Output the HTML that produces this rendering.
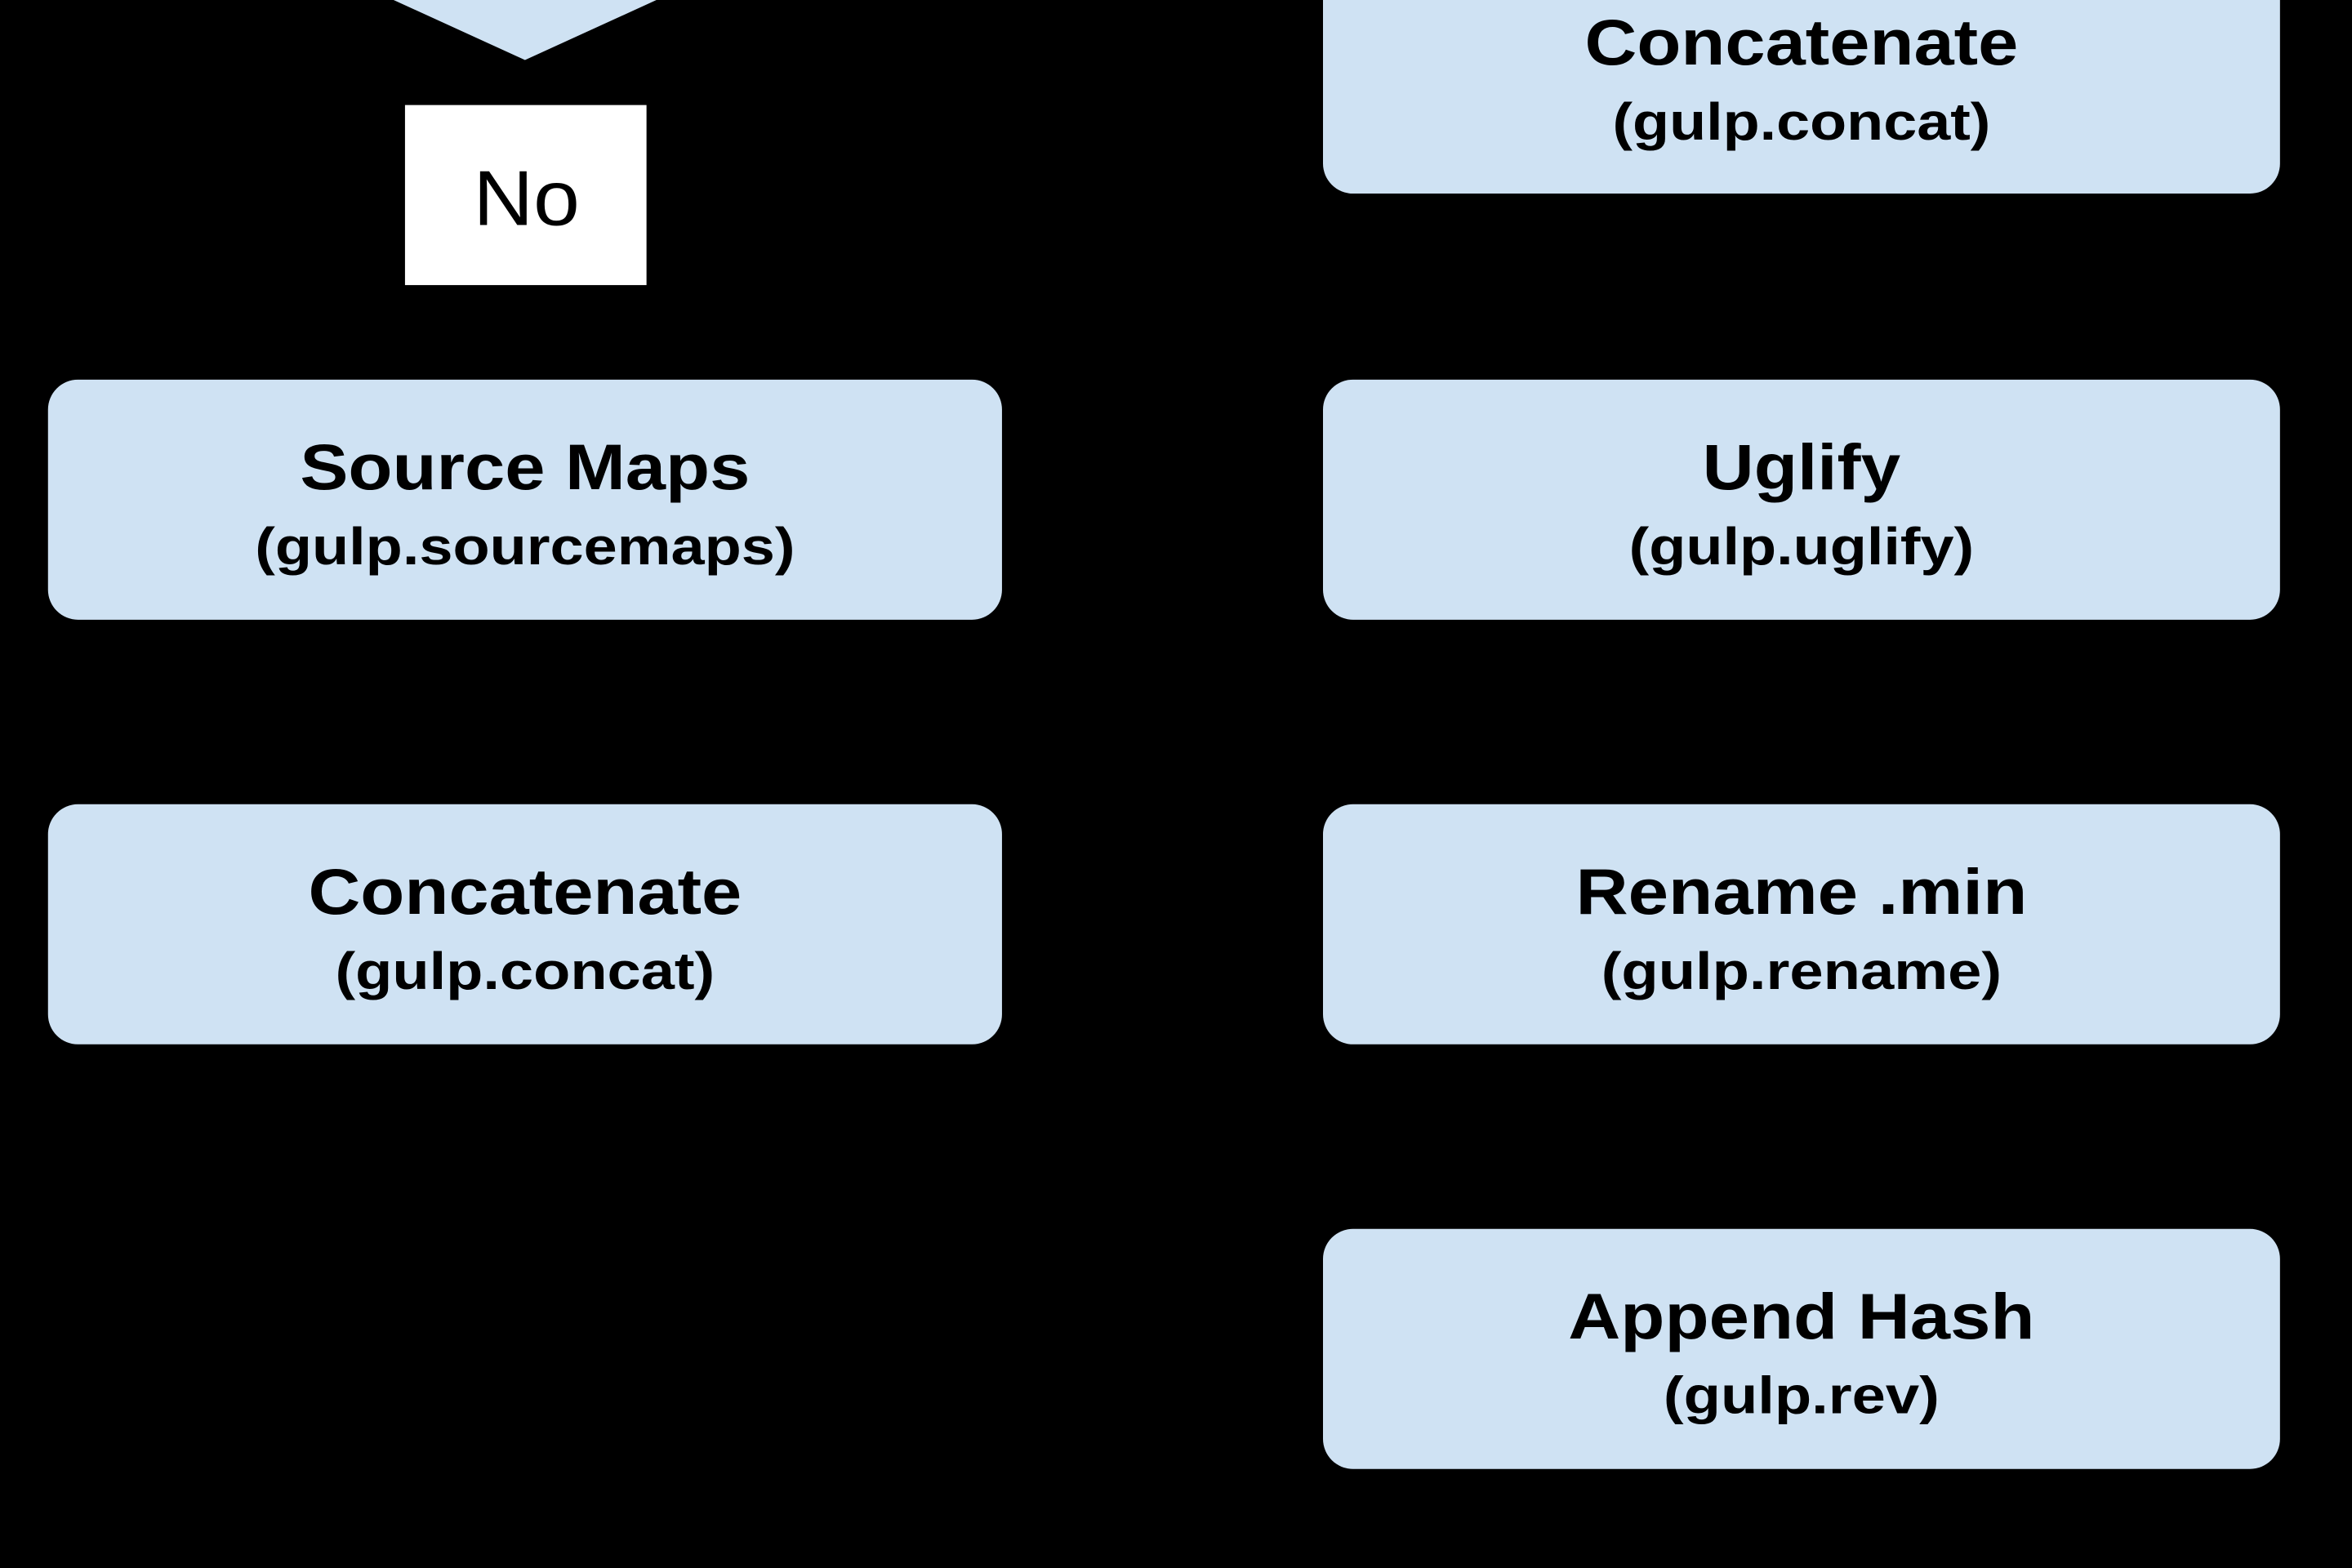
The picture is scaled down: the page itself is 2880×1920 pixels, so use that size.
<!DOCTYPE html>
<html><head><meta charset="utf-8"><style>
html,body{margin:0;padding:0;background:#000;width:2880px;height:1920px;overflow:hidden}
svg{display:block}
text{font-family:"Liberation Sans",Arial,sans-serif;fill:#000;text-anchor:middle}
.t{font-weight:bold;font-size:43px}
.s{font-weight:bold;font-size:35px}
</style></head><body>
<svg width="2880" height="1920" viewBox="0 0 1568 1045" preserveAspectRatio="none" xmlns="http://www.w3.org/2000/svg">
<rect x="0" y="0" width="1568" height="1045" fill="#000"/>
<polygon points="258,-2 442,-2 350,40" fill="#cfe2f3"/>
<rect x="270" y="70" width="161" height="120" fill="#fff"/>
<text x="351" y="150" style="font-size:52px" textLength="71" lengthAdjust="spacingAndGlyphs">No</text>

<rect x="32" y="253" width="636" height="160" rx="20" fill="#cfe2f3"/>
<text class="t" x="350" y="326" textLength="300" lengthAdjust="spacingAndGlyphs">Source Maps</text>
<text class="s" x="350" y="376" textLength="360" lengthAdjust="spacingAndGlyphs">(gulp.sourcemaps)</text>

<rect x="32" y="536" width="636" height="160" rx="20" fill="#cfe2f3"/>
<text class="t" x="350" y="609" textLength="289" lengthAdjust="spacingAndGlyphs">Concatenate</text>
<text class="s" x="350" y="659" textLength="253" lengthAdjust="spacingAndGlyphs">(gulp.concat)</text>

<rect x="882" y="-40" width="638" height="169" rx="20" fill="#cfe2f3"/>
<text class="t" x="1201" y="43" textLength="289" lengthAdjust="spacingAndGlyphs">Concatenate</text>
<text class="s" x="1201" y="93" textLength="252" lengthAdjust="spacingAndGlyphs">(gulp.concat)</text>

<rect x="882" y="253" width="638" height="160" rx="20" fill="#cfe2f3"/>
<text class="t" x="1201" y="326" textLength="132" lengthAdjust="spacingAndGlyphs">Uglify</text>
<text class="s" x="1201" y="376" textLength="230" lengthAdjust="spacingAndGlyphs">(gulp.uglify)</text>

<rect x="882" y="536" width="638" height="160" rx="20" fill="#cfe2f3"/>
<text class="t" x="1201" y="609" textLength="301" lengthAdjust="spacingAndGlyphs">Rename .min</text>
<text class="s" x="1201" y="659" textLength="267" lengthAdjust="spacingAndGlyphs">(gulp.rename)</text>

<rect x="882" y="819" width="638" height="160" rx="20" fill="#cfe2f3"/>
<text class="t" x="1201" y="892" textLength="311" lengthAdjust="spacingAndGlyphs">Append Hash</text>
<text class="s" x="1201" y="942" textLength="184" lengthAdjust="spacingAndGlyphs">(gulp.rev)</text>
</svg>
</body></html>
